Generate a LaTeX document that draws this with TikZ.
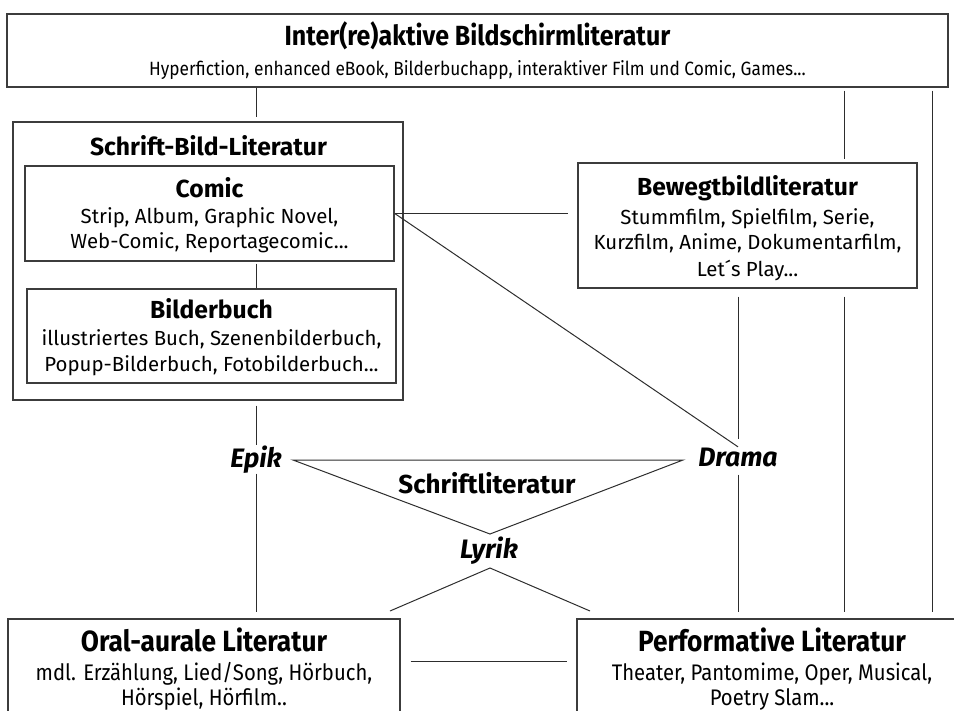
\documentclass[tikz,border=0pt]{standalone}
\usepackage{fontspec}
\setmainfont{Fira Sans}
\newfontfamily\condfont[FakeStretch=0.9]{Fira Sans}
\usetikzlibrary{fit}

\tikzset{every picture/.style={line width=0.75pt}}
\tikzset{
box/.style={draw={rgb, 255:red, 60; green, 60; blue, 60}, line width=1.1pt, inner sep=0pt},
boxtext/.style={anchor=base, inner sep=0pt, font=\fontsize{15.3}{18}\selectfont},
boxtitle/.style={anchor=base, inner sep=0pt, font=\fontsize{18.5}{20}\selectfont\bfseries},
condtext/.style={anchor=base, inner sep=0pt, font=\condfont\fontsize{16.9}{20}\selectfont},
condtitle/.style={anchor=base, inner sep=0pt, font=\condfont\fontsize{21.9}{24}\selectfont\bfseries},
genre/.style={anchor=base, inner sep=0pt, text height=14pt, text depth=4pt, font=\fontsize{20}{22}\selectfont\bfseries\itshape},
link/.style={draw={rgb, 255:red, 45; green, 45; blue, 45}, line width=0.75pt}}

\begin{document}
\begin{tikzpicture}[x=0.75pt,y=0.75pt,yscale=-1,xscale=1]
%set diagram to the size of the original
\useasboundingbox (0,0) rectangle (954,711);
\clip (0,0) rectangle (954,711);

%Shape: Rectangle [top]
\node (top) [box, fit={(7,14) (948,87)}] {};
% Text Node
\draw (477.5,45) node (toptitle) [condtitle, font=\condfont\fontsize{20.8}{24}\selectfont\bfseries] {Inter(re)aktive Bildschirmliteratur};
\draw (477.5,75) node (topsub) [condtext, font=\condfont\fontsize{14.4}{18}\selectfont] {Hyperfiction, enhanced eBook, Bilderbuchapp, interaktiver Film und Comic, Games...};

%Shape: Rectangle [Schrift-Bild]
\node (sbl) [box, fit={(13,122) (403,400)}] {};
% Text Node
\draw (208.5,155) node (sbltitle) [boxtitle] {Schrift-Bild-Literatur};
%Shape: Rectangle
\node (comic) [box, fit={(25,166) (394,261)}] {};
% Text Node
\draw (209.5,197) node (comictitle) [boxtitle] {Comic};
\draw (209.5,223) node (comica) [boxtext] {Strip, Album, Graphic Novel,};
\draw (209.5,248) node (comicb) [boxtext] {Web-Comic, Reportagecomic...};
%Shape: Rectangle
\node (bilder) [box, fit={(27,289) (396,383)}] {};
% Text Node
\draw (211.5,318) node (bildertitle) [boxtitle] {Bilderbuch};
\draw (211.5,345) node (bildera) [boxtext] {illustriertes Buch, Szenenbilderbuch,};
\draw (211.5,371) node (bilderb) [boxtext] {Popup-Bilderbuch, Fotobilderbuch...};

%Shape: Rectangle [Bewegtbild]
\node (bewegt) [box, fit={(578,163) (917,288)}] {};
% Text Node
\draw (747.5,195) node (bewegttitle) [boxtitle] {Bewegtbildliteratur};
\draw (747.5,224) node (bewegta) [boxtext] {Stummfilm, Spielfilm, Serie,};
\draw (747.5,249) node (bewegtb) [boxtext] {Kurzfilm, Anime, Dokumentarfilm,};
\draw (747.5,276) node (bewegtc) [boxtext] {Let´s Play...};

%Shape: Rectangle [bottom]
\node (oral) [box, fit={(8,619) (400,719)}] {};
\node (perf) [box, fit={(577,619) (967,719)}] {};
% Text Node
\draw (204,651) node (oraltitle) [condtitle] {Oral-aurale Literatur};
\draw (204,680) node (orala) [condtext] {mdl. Erzählung, Lied/Song, Hörbuch,};
\draw (204,705) node (oralb) [condtext] {Hörspiel, Hörfilm..};
% Text Node
\draw (772,651) node (perftitle) [condtitle] {Performative Literatur};
\draw (772,680) node (perfa) [condtext] {Theater, Pantomime, Oper, Musical,};
\draw (772,705) node (perfb) [condtext] {Poetry Slam...};

% Text Node
\draw (256,467) node (epik) [genre] {Epik};
\draw (738,466) node (drama) [genre] {Drama};
\draw (489,558) node (lyrik) [genre] {Lyrik};
\draw (487,493) node (schrift) [boxtitle, font=\fontsize{19.5}{22}\selectfont\bfseries] {Schriftliteratur};

\coordinate (el) at (293,460);
\coordinate (er) at (683,460);
\coordinate (ap) at (490,534);
\coordinate (vl) at (390,611);
\coordinate (va) at (490,568);
\coordinate (vr) at (590,611);
\coordinate (bw) at (844,0);
\coordinate (rt) at (932,0);
\coordinate (mid) at (489,661);

%Straight Lines
\draw [link, shorten >=3pt] (top.south -| epik) -- (sbl.north -| epik);
\draw [link, shorten <=1.5pt] (comic.south -| epik) -- (bilder.north -| epik);
\draw [link, shorten <=3.75pt, shorten >=2.5pt] (sbl.south -| epik) -- (epik.north);
\draw [link, shorten <=0.5pt, shorten >=4.5pt] (epik.south) -- (oral.north -| epik);
%Straight Lines
\draw [link, shorten >=6.75pt] (comic.east) -- (comic.east -| bewegt.west);
\draw [link] (comic.east) -- (drama.north);
%Straight Lines
\draw [link, shorten <=6pt, shorten >=6.2pt] (bewegt.south -| drama) -- (drama.north);
\draw [link, shorten <=2pt, shorten >=4.5pt] (drama.south) -- (perf.north -| drama);
\draw [link, shorten <=2.25pt, shorten >=2.25pt] (top.south -| bw) -- (bewegt.north -| bw);
\draw [link, shorten <=6pt, shorten >=4.5pt] (bewegt.south -| bw) -- (perf.north -| bw);
\draw [link, shorten <=2.25pt, shorten >=4.5pt] (top.south -| rt) -- (perf.north -| rt);
\draw [link, shorten <=7.5pt, shorten >=6.75pt] (oral.east |- mid) -- (perf.west |- mid);
%Triangle and Lyrik lines
\draw [link] (el) -- (er) -- (ap) -- cycle;
\draw [link] (vl) -- (va) -- (vr);

\end{tikzpicture}
\end{document}
